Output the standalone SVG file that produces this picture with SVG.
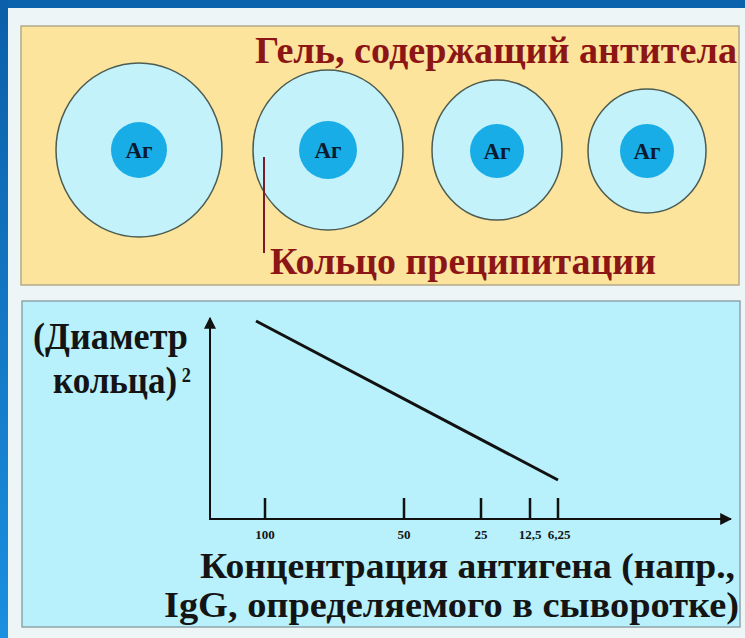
<svg xmlns="http://www.w3.org/2000/svg" width="745" height="638" viewBox="0 0 745 638">
<defs>
<linearGradient id="lstrip" x1="0" y1="0" x2="0" y2="1">
<stop offset="0" stop-color="#0b5fa9"/>
<stop offset="1" stop-color="#1b8fe0"/>
</linearGradient>
<marker id="arr" viewBox="0 0 10 10" refX="9" refY="5" markerWidth="6" markerHeight="6" orient="auto" markerUnits="strokeWidth">
<path d="M0,0 L10,5 L0,10 z" fill="#111"/>
</marker>
<style>
.outer{fill:#c3f2fb;stroke:#4c5c52;stroke-width:1.5}
.inner{fill:#18ade6}
.ag{font-family:"Liberation Serif",serif;font-weight:bold;font-size:23px;fill:#0a1a30;text-anchor:middle}
.red{font-family:"Liberation Serif",serif;font-weight:bold;font-size:37px;fill:#8c1616}
.blk{font-family:"Liberation Serif",serif;font-weight:bold;fill:#141414}
.tick{stroke:#111;stroke-width:2.5}
.num{font-family:"Liberation Serif",serif;font-weight:bold;font-size:13px;fill:#141414;text-anchor:middle}
</style>
</defs>
<rect x="0" y="0" width="745" height="638" fill="#eef5f7"/>
<rect x="0" y="0" width="745" height="8" fill="#0b63ad"/>
<rect x="0" y="0" width="8" height="638" fill="url(#lstrip)"/>

<g id="gel-panel">
<rect x="21" y="26" width="718" height="259" fill="#fde49c" stroke="#b3aa8a" stroke-width="1.5"/>
<text class="red" x="255" y="63" textLength="482" lengthAdjust="spacingAndGlyphs">Гель, содержащий антитела</text>
<text class="red" x="270" y="274" textLength="386" lengthAdjust="spacingAndGlyphs">Кольцо преципитации</text>
</g>

<g id="well1">
<ellipse class="outer" cx="139" cy="150" rx="83" ry="87"/>
<circle class="inner" cx="139" cy="150" r="28"/>
<text class="ag" x="139" y="158">Аг</text>
</g>
<g id="well2">
<ellipse class="outer" cx="328" cy="150" rx="75" ry="80"/>
<circle class="inner" cx="328" cy="150" r="29"/>
<text class="ag" x="328" y="158">Аг</text>
</g>
<g id="well3">
<ellipse class="outer" cx="497" cy="150" rx="65" ry="70"/>
<circle class="inner" cx="497" cy="151" r="27"/>
<text class="ag" x="497" y="159">Аг</text>
</g>
<g id="well4">
<ellipse class="outer" cx="647" cy="151" rx="59" ry="62"/>
<circle class="inner" cx="647" cy="151" r="27"/>
<text class="ag" x="647" y="159">Аг</text>
</g>

<g id="connectors">
<line x1="264" y1="157" x2="264" y2="253" stroke="#7a1a2a" stroke-width="2"/>
</g>

<g id="graph-panel">
<rect x="22" y="301" width="718" height="326" fill="#b8f1fb" stroke="#8ea4aa" stroke-width="1.5"/>
<line x1="210" y1="520" x2="210" y2="318" stroke="#111" stroke-width="2" marker-end="url(#arr)"/>
<line x1="209" y1="519" x2="731" y2="519" stroke="#111" stroke-width="2" marker-end="url(#arr)"/>
<line x1="256" y1="321" x2="558" y2="480" stroke="#111" stroke-width="3"/>
<line class="tick" x1="265" y1="498" x2="265" y2="519"/>
<line class="tick" x1="404" y1="498" x2="404" y2="519"/>
<line class="tick" x1="481" y1="498" x2="481" y2="519"/>
<line class="tick" x1="530" y1="498" x2="530" y2="519"/>
<line class="tick" x1="558" y1="498" x2="558" y2="519"/>
<text class="num" x="265" y="539">100</text>
<text class="num" x="404" y="539">50</text>
<text class="num" x="481" y="539">25</text>
<text class="num" x="530" y="539">12,5</text>
<text class="num" x="559" y="539">6,25</text>
<text class="blk" x="33" y="349" font-size="38" textLength="155" lengthAdjust="spacingAndGlyphs">(Диаметр</text>
<text class="blk" x="53" y="393" font-size="38" textLength="138" lengthAdjust="spacingAndGlyphs">кольца)<tspan font-size="20" dx="5" dy="-11">2</tspan></text>
<text class="blk" x="200" y="578" font-size="36" textLength="535" lengthAdjust="spacingAndGlyphs">Концентрация антигена (напр.,</text>
<text class="blk" x="164" y="617" font-size="36" textLength="575" lengthAdjust="spacingAndGlyphs">IgG, определяемого в сыворотке)</text>
</g>
</svg>
